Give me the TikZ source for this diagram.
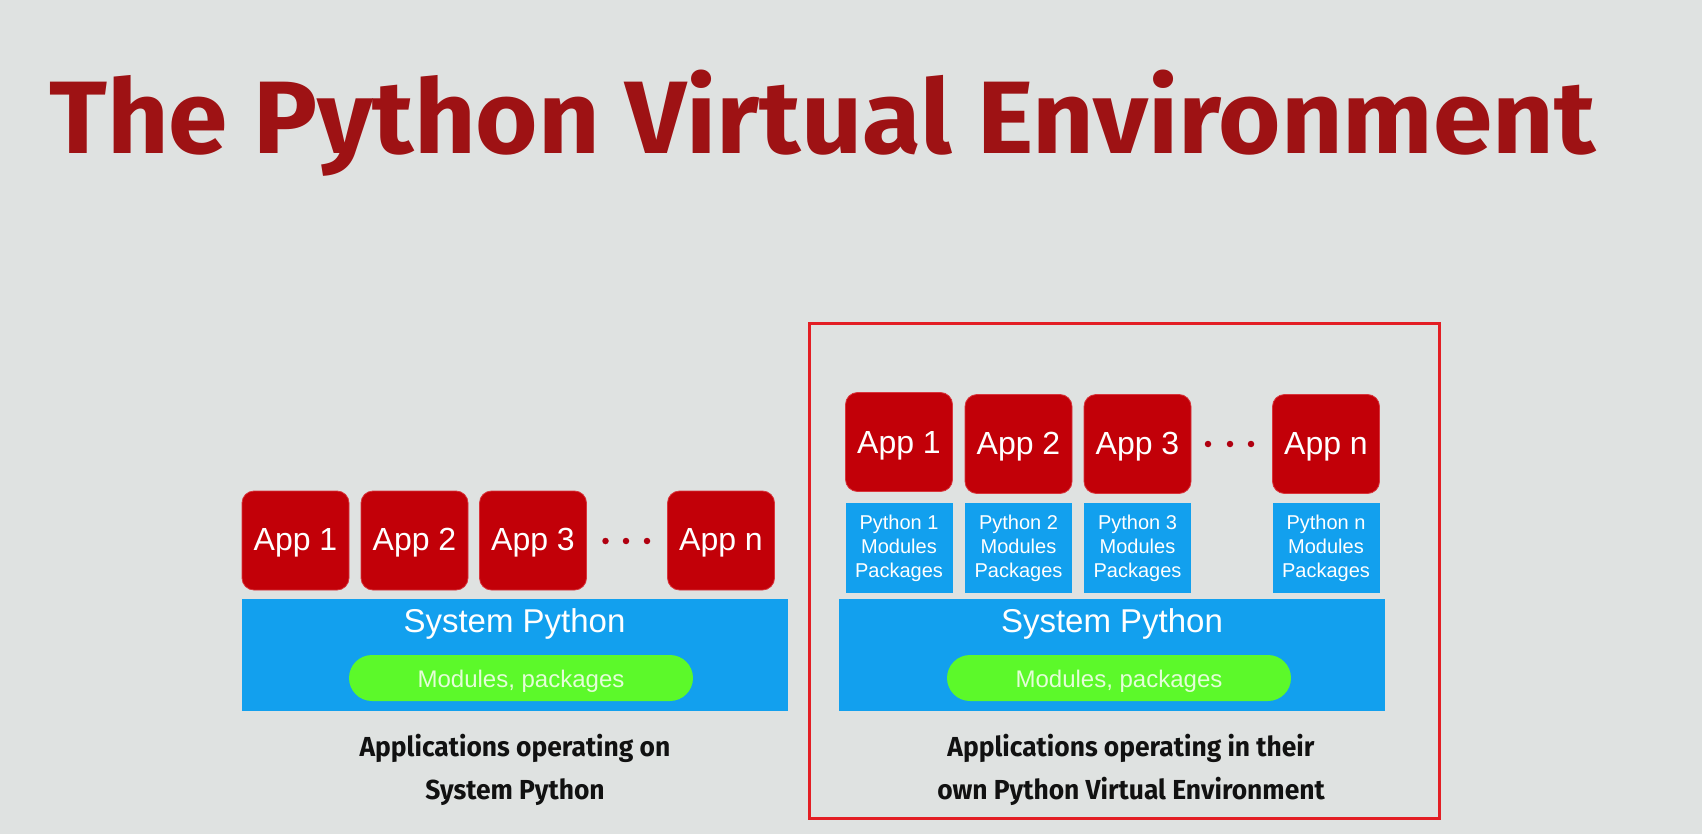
\documentclass[tikz,border=0pt]{standalone}
\usepackage{fontspec}
\setmainfont{Liberation Sans}
\newfontfamily\headfont[FakeStretch=1.04]{Fira Sans}
\newfontfamily\capfont[FakeStretch=0.96]{Fira Sans}
\definecolor{bgcol}{HTML}{DFE2E1}
\definecolor{titlecol}{HTML}{9E1214}
\definecolor{appred}{HTML}{C20008}
\definecolor{appedge}{HTML}{D8343B}
\definecolor{pyblue}{HTML}{12A0EE}
\definecolor{pillgreen}{HTML}{5CF92A}
\definecolor{pilltext}{HTML}{E4FDD8}
\definecolor{framered}{HTML}{E31E24}
\definecolor{dotred}{HTML}{B00010}
\definecolor{captext}{HTML}{111111}
% shift a label down without changing the box it occupies
\newcommand{\lowered}[2]{\raisebox{-#1}[\height][\depth]{#2}}
\begin{document}
\begin{tikzpicture}[x=1pt,y=-1pt,
  app/.style={draw=appedge, line width=0.8pt, fill=appred, rounded corners=12pt,
    minimum width=107pt, minimum height=99pt, inner sep=0pt, text=white,
    font=\fontsize{32}{38}\selectfont},
  envbox/.style={fill=pyblue, minimum width=107pt, minimum height=90pt, inner sep=0pt,
    text=white, align=center, font=\fontsize{20}{24}\selectfont},
  sysbox/.style={fill=pyblue, minimum width=546pt, minimum height=112pt, inner sep=0pt},
  syslabel/.style={text=white, inner sep=0pt, font=\fontsize{33}{38}\selectfont},
  pill/.style={fill=pillgreen, rounded corners=23pt, minimum width=344pt,
    minimum height=46pt, inner sep=0pt, text=pilltext, font=\fontsize{24}{28}\selectfont},
  dot/.style={circle, fill=dotred, inner sep=0pt, minimum size=6.5pt},
  caption/.style={anchor=base, inner sep=0pt, text=captext,
    font=\capfont\bfseries\fontsize{27.5}{32}\selectfont}
]
% canvas
\fill[bgcol] (0,0) rectangle (1702,834);
\useasboundingbox (0,0) rectangle (1702,834);

% heading
\node[anchor=base west, inner sep=0pt, text=titlecol,
  font=\headfont\bfseries\fontsize{103}{103}\selectfont] (title) at (49,154)
  {The Python Virtual Environment};

% ---- left: apps on the system interpreter ----
\node[sysbox] (lsys) at (514.5,655) {};
\node[syslabel] (lsyslbl) at (514.5,624) {System Python};
\node[pill] (lpill) at (521,678) {\lowered{3pt}{Modules, packages}};

\node[app] (la1) at (295.5,540.5) {\lowered{2.5pt}{App 1}};
\node[app] (la2) at (414.5,540.5) {\lowered{2.5pt}{App 2}};
\node[app] (la3) at (533,540.5) {\lowered{2.5pt}{App 3}};
\node[app] (lan) at (721,540.5) {\lowered{2.5pt}{App n}};
\node[dot] (ld1) at (605.5,541) {};
\node[dot] (ld2) at (626,541) {};
\node[dot] (ld3) at (647,541) {};

\node[caption] (lcap1) at (515,756) {Applications operating on};
\node[caption] (lcap2) at (515,799) {System Python};

% ---- right: apps in their own virtual environments ----
\draw[framered, line width=3pt] (809,323) rectangle (1439,818);

\node[sysbox] (rsys) at (1112,655) {};
\node[syslabel] (rsyslbl) at (1112,624) {System Python};
\node[pill] (rpill) at (1119,678) {\lowered{3pt}{Modules, packages}};

\node[envbox] (re1) at (899,548) {Python 1\\Modules\\Packages};
\node[envbox] (re2) at (1018.5,548) {Python 2\\Modules\\Packages};
\node[envbox] (re3) at (1137.5,548) {Python 3\\Modules\\Packages};
\node[envbox] (ren) at (1326,548) {Python n\\Modules\\Packages};

\node[app] (ra1) at (899,442) {\lowered{4pt}{App 1}};
\node[app] (ra2) at (1018.5,444) {\lowered{3pt}{App 2}};
\node[app] (ra3) at (1137.5,444) {\lowered{3pt}{App 3}};
\node[app] (ran) at (1326,444) {\lowered{3pt}{App n}};
\node[dot] (rd1) at (1208,444) {};
\node[dot] (rd2) at (1230,444) {};
\node[dot] (rd3) at (1251,444) {};

\node[caption] (rcap1) at (1131,756) {Applications operating in their};
\node[caption] (rcap2) at (1131,799) {own Python Virtual Environment};
\end{tikzpicture}
\end{document}
